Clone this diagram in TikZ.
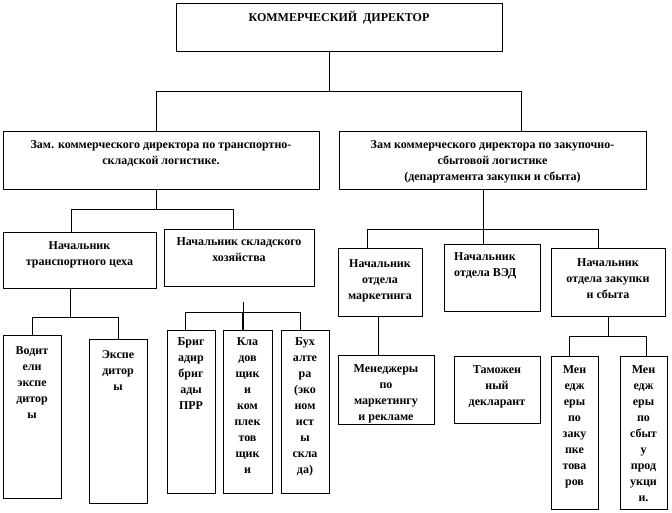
\documentclass[tikz,border=0pt]{standalone}
\usepackage{fontspec}
\setmainfont{Liberation Serif}
\begin{document}
\begin{tikzpicture}[x=1pt,y=-1pt,
  box/.style={draw, line width=0.8pt, inner sep=0pt, outer sep=0pt, anchor=north west},
  txt/.style={font=\fontsize{12}{16}\selectfont\bfseries, align=center, inner sep=0pt, anchor=north},
  conn/.style={line width=0.8pt}]
\useasboundingbox (0,0) rectangle (672,513);
% boxes
\node[box, minimum width=326pt, minimum height=48pt] (top) at (176,3) {};
\node[box, minimum width=316pt, minimum height=58pt] (zamL) at (3,131) {};
\node[box, minimum width=307pt, minimum height=58pt] (zamR) at (339,131) {};
\node[box, minimum width=153pt, minimum height=56pt] (trans) at (3,232) {};
\node[box, minimum width=150pt, minimum height=57pt] (sklad) at (164,229) {};
\node[box, minimum width=84pt, minimum height=68pt] (mark) at (338,248) {};
\node[box, minimum width=96pt, minimum height=67pt] (ved) at (444,244) {};
\node[box, minimum width=114pt, minimum height=68pt] (proc) at (551,248) {};
\node[box, minimum width=58pt, minimum height=163pt] (vod) at (3,335) {};
\node[box, minimum width=58pt, minimum height=164pt] (eksp) at (89,339) {};
\node[box, minimum width=48pt, minimum height=163pt] (brig) at (167,330) {};
\node[box, minimum width=49pt, minimum height=163pt] (klad) at (223,330) {};
\node[box, minimum width=48pt, minimum height=163pt] (buh) at (281,330) {};
\node[box, minimum width=96pt, minimum height=69pt] (menm) at (338,355) {};
\node[box, minimum width=86pt, minimum height=67pt] (tam) at (454,356) {};
\node[box, minimum width=47pt, minimum height=153pt] (menz) at (551,356) {};
\node[box, minimum width=47pt, minimum height=153pt] (mens) at (620,356) {};
% texts
\node[txt] (topT) at ([yshift=-8pt]top.north) {КОММЕРЧЕСКИЙ\ \ ДИРЕКТОР};
\node[txt] (zamLT) at ([yshift=-9pt]zamL.north) {Зам. коммерческого директора по транспортно-\\складской логистике.};
\node[txt] (zamRT) at ([yshift=-9pt]zamR.north) {Зам коммерческого директора по закупочно-\\сбытовой логистике\\(департамента закупки и сбыта)};
\node[txt] (transT) at ([yshift=-9pt]trans.north) {Начальник\\транспортного цеха};
\node[txt] (skladT) at ([yshift=-8pt]sklad.north) {Начальник складского\\хозяйства};
\node[txt] (markT) at ([yshift=-11pt]mark.north) {Начальник\\отдела\\маркетинга};
\node[txt, anchor=north west, align=left] (vedT) at ([xshift=10pt,yshift=-8pt]ved.north west) {Начальник\\отдела ВЭД};
\node[txt] (procT) at ([yshift=-10pt]proc.north) {Начальник\\отдела закупки\\и сбыта};
\node[txt] (vodT) at ([yshift=-11pt]vod.north) {Водит\\ели\\экспе\\дитор\\ы};
\node[txt] (ekspT) at ([yshift=-11pt]eksp.north) {Экспе\\дитор\\ы};
\node[txt] (brigT) at ([yshift=-7pt]brig.north) {Бриг\\адир\\бриг\\ады\\ПРР};
\node[txt] (kladT) at ([yshift=-7pt]klad.north) {Кла\\дов\\щик\\и\\ком\\плек\\тов\\щик\\и};
\node[txt] (buhT) at ([yshift=-7pt]buh.north) {Бух\\алте\\ра\\(эко\\ном\\ист\\ы\\скла\\да)};
\node[txt] (menmT) at ([yshift=-9pt]menm.north) {Менеджеры\\по\\маркетингу\\и рекламе};
\node[txt] (tamT) at ([yshift=-9pt]tam.north) {Таможен\\ный\\декларант};
\node[txt] (menzT) at ([yshift=-9pt]menz.north) {Мен\\едж\\еры\\по\\заку\\пке\\това\\ров};
\node[txt] (mensT) at ([yshift=-9pt]mens.north) {Мен\\едж\\еры\\по\\сбыт\\у\\прод\\укци\\и.};
% junction coordinates
\coordinate (c1) at (329,91);
\coordinate (a1) at (156,91);
\coordinate (a2) at (521,91);
\coordinate (b0) at (156,209);
\coordinate (b1) at (71,209);
\coordinate (b2) at (233,209);
\coordinate (r0) at (483,229);
\coordinate (r1) at (367,229);
\coordinate (r2) at (598,229);
\coordinate (t0) at (70,317);
\coordinate (t1) at (32,317);
\coordinate (t2) at (118,317);
\coordinate (sst) at (243,302);
\coordinate (s0) at (243,312);
\coordinate (s1) at (185,312);
\coordinate (s2) at (300,312);
\coordinate (m0) at (378,336);
\coordinate (p0) at (608,336);
\coordinate (p1) at (569,336);
\coordinate (p2) at (646,336);
% connectors
\draw[conn] (top.south -| c1) -- (c1);
\draw[conn] (a1) -- (a2);
\draw[conn] (a1) -- (a1 |- zamL.north);
\draw[conn] (a2) -- (a2 |- zamR.north);
\draw[conn] (b0 |- zamL.south) -- (b0);
\draw[conn] (b1) -- (b2);
\draw[conn] (b1) -- (b1 |- trans.north);
\draw[conn] (b2) -- (b2 |- sklad.north);
\draw[conn] (r0 |- zamR.south) -- (r0);
\draw[conn] (r1) -- (r2);
\draw[conn] (r1) -- (r1 |- mark.north);
\draw[conn] (r0) -- (r0 |- ved.north);
\draw[conn] (r2) -- (r2 |- proc.north);
\draw[conn] (t0 |- trans.south) -- (t0);
\draw[conn] (t1) -- (t2);
\draw[conn] (t1) -- (t1 |- vod.north);
\draw[conn] (t2) -- (t2 |- eksp.north);
\draw[conn] (sst) -- (s0);
\draw[conn] (s1) -- (s2);
\draw[conn] (s1) -- (s1 |- brig.north);
\draw[conn, line width=1.4pt] (s0) -- (s0 |- klad.north);
\draw[conn] (s2) -- (s2 |- buh.north);
\draw[conn] (m0 |- mark.south) -- (m0 |- menm.north);
\draw[conn] (p0 |- proc.south) -- (p0);
\draw[conn] (p1) -- (p2);
\draw[conn] (p1) -- (p1 |- menz.north);
\draw[conn] (p2) -- (p2 |- mens.north);
\end{tikzpicture}
\end{document}
